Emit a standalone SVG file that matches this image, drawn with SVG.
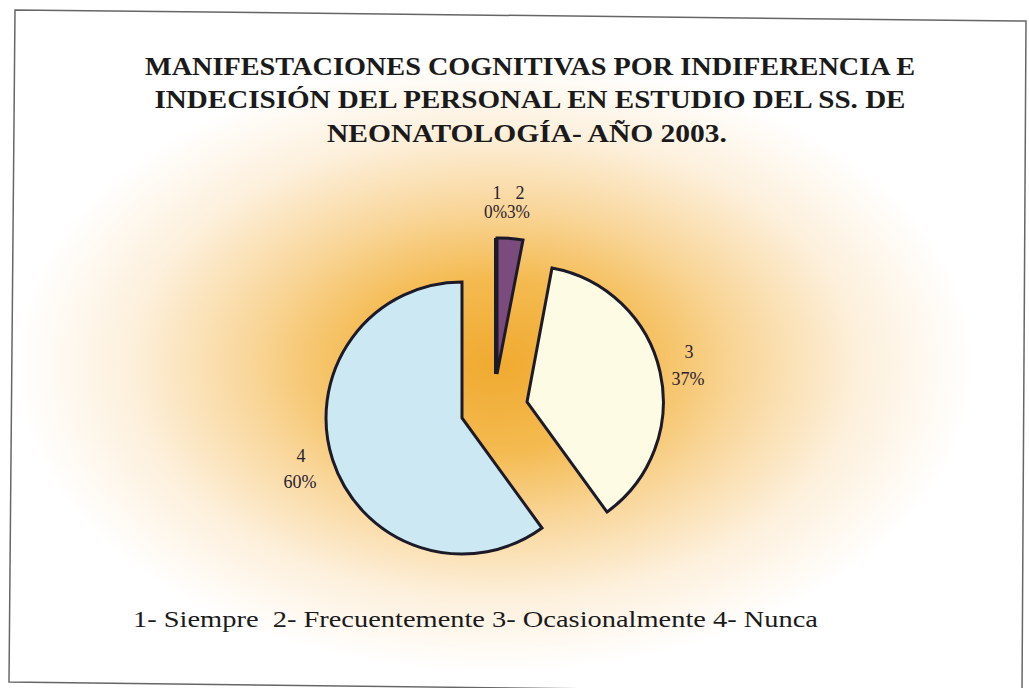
<svg xmlns="http://www.w3.org/2000/svg" width="1029" height="688" viewBox="0 0 1029 688">
<defs>
<radialGradient id="bg" gradientUnits="userSpaceOnUse" cx="495" cy="365" r="480" gradientTransform="translate(495 365) scale(1 0.64) translate(-495 -365)">
<stop offset="0" stop-color="#f0aa30"/>
<stop offset="0.28" stop-color="#f4ba50"/>
<stop offset="0.52" stop-color="#f9d79c"/>
<stop offset="0.76" stop-color="#fdf0dc"/>
<stop offset="1" stop-color="#ffffff"/>
</radialGradient>
<style>
.title{font-family:"Liberation Serif",serif;font-weight:bold;font-size:26px;fill:#1a1a1a}
.lbl{font-family:"Liberation Serif",serif;font-size:18px;fill:#2a2030}
.leg{font-family:"Liberation Serif",serif;font-size:23px;fill:#1a1a1a}
.slice{stroke:#1c1a28;stroke-width:3;stroke-linejoin:miter}
</style>
</defs>
<rect x="0" y="0" width="1029" height="688" fill="#ffffff"/>
<rect x="10" y="12" width="1014" height="672" fill="url(#bg)"/>
<polygon points="15,10 1026,21 1022,694 9,682" fill="none" stroke="#666" stroke-width="1.5"/>
<g id="title">
<text class="title" x="530" y="75" text-anchor="middle" textLength="770" lengthAdjust="spacingAndGlyphs">MANIFESTACIONES COGNITIVAS POR INDIFERENCIA E</text>
<text class="title" x="530" y="108" text-anchor="middle" textLength="751" lengthAdjust="spacingAndGlyphs">INDECISIÓN DEL PERSONAL EN ESTUDIO DEL SS. DE</text>
<text class="title" x="527" y="142" text-anchor="middle" textLength="400" lengthAdjust="spacingAndGlyphs">NEONATOLOGÍA- AÑO 2003.</text>
</g>
<g id="slice4">
<path class="slice" fill="#cbe8f3" d="M462,418 L462,282 A136,136 0 1 0 542,528 Z"/>
</g>
<g id="slice3">
<path class="slice" fill="#fdfbe4" d="M527,402 L552,268 A136,136 0 0 1 607,512 Z"/>
</g>
<g id="slice2">
<path class="slice" fill="#7a4b7c" d="M497,374 L497,238 A136,136 0 0 1 523,240 Z"/>
</g>
<g id="slice1">
<line x1="495" y1="374" x2="495" y2="238" stroke="#1c1a28" stroke-width="2"/>
</g>
<g id="labels">
<text class="lbl" x="497" y="199" text-anchor="middle">1</text>
<text class="lbl" x="520" y="199" text-anchor="middle">2</text>
<text class="lbl" x="507" y="218" text-anchor="middle" textLength="46" lengthAdjust="spacingAndGlyphs">0%3%</text>
<text class="lbl" x="689" y="358" text-anchor="middle">3</text>
<text class="lbl" x="688" y="385" text-anchor="middle">37%</text>
<text class="lbl" x="301" y="462" text-anchor="middle">4</text>
<text class="lbl" x="300" y="488" text-anchor="middle">60%</text>
</g>
<g id="legend">
<text class="leg" x="133" y="627" textLength="685" lengthAdjust="spacingAndGlyphs">1- Siempre&#160; 2- Frecuentemente 3- Ocasionalmente 4- Nunca</text>
</g>
</svg>
